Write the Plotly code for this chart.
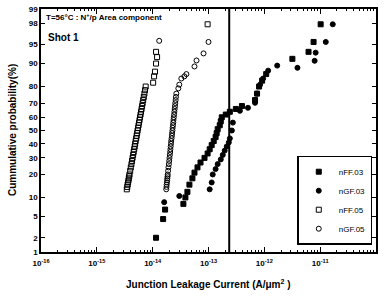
import plotly.graph_objects as go
from statistics import NormalDist

nd = NormalDist()
def z(p):
    return nd.inv_cdf(p / 100.0)

# nFF.05 (open squares)
nff05_i = [3.44e-15, 3.51e-15, 3.56e-15, 3.63e-15, 3.69e-15, 3.74e-15, 3.80e-15, 3.85e-15,
           3.96e-15, 4.06e-15, 4.17e-15, 4.27e-15, 4.37e-15, 4.47e-15, 4.57e-15, 4.67e-15,
           4.77e-15, 4.86e-15, 4.96e-15, 5.07e-15, 5.17e-15, 5.27e-15, 5.37e-15, 5.48e-15,
           5.59e-15, 5.70e-15, 5.82e-15, 5.94e-15, 6.07e-15, 6.19e-15, 6.33e-15, 6.47e-15,
           6.61e-15, 6.77e-15, 6.94e-15, 7.11e-15, 7.30e-15, 7.50e-15,
           1.02e-14, 1.06e-14, 1.10e-14, 1.15e-14, 1.20e-14, 1.15e-14, 9.64e-14]
nff05_p = [13, 14, 15, 16, 17, 18, 19, 20, 22, 24, 26, 28, 30, 32, 34, 36, 38, 40, 42, 44,
           46, 48, 50, 52, 54, 56, 58, 60, 62, 64, 66, 68, 70, 72, 74, 76, 78, 80,
           82, 85, 87, 90, 92, 93.4, 97.9]

# nGF.05 (open circles)
ngf05_i = [1.75e-14, 1.77e-14, 1.78e-14, 1.80e-14, 1.82e-14, 1.83e-14, 1.85e-14, 1.86e-14,
           1.89e-14, 1.92e-14, 1.95e-14, 1.98e-14, 2.00e-14, 2.03e-14, 2.06e-14, 2.08e-14,
           2.10e-14, 2.13e-14, 2.15e-14, 2.18e-14, 2.21e-14, 2.23e-14, 2.26e-14, 2.28e-14,
           2.31e-14, 2.34e-14, 2.36e-14, 2.39e-14, 2.42e-14, 2.45e-14, 2.48e-14, 2.51e-14,
           2.54e-14, 2.58e-14, 2.61e-14, 2.65e-14,
           2.88e-14, 3.00e-14, 3.26e-14, 3.70e-14, 4.02e-14, 5.61e-14, 6.10e-14, 8.15e-14,
           1.00e-13, 1.31e-14]
ngf05_p = [13, 14, 15, 16, 17, 18, 19, 20, 22, 24, 26, 28, 30, 32, 34, 36, 38, 40, 42, 44,
           46, 48, 50, 52, 54, 56, 58, 60, 62, 64, 66, 68, 70, 72, 74, 76,
           79, 81, 84, 85, 86, 89, 91, 93, 95.5, 95.7]

# nFF.03 (filled squares)
nff03_i = [1.15e-14, 1.54e-14, 1.67e-14, 3.55e-14, 3.86e-14, 4.19e-14, 4.55e-14, 5.15e-14,
           5.61e-14, 6.35e-14, 7.19e-14, 8.49e-14, 9.64e-14, 1.05e-13, 1.14e-13, 1.24e-13,
           1.34e-13, 1.40e-13, 1.46e-13, 1.59e-13, 1.66e-13, 1.73e-13, 2.04e-13, 2.41e-13,
           3.09e-13, 3.97e-13, 6.82e-13, 7.41e-13, 8.05e-13, 9.12e-13, 1.08e-12, 3.18e-12,
           6.19e-12, 7.62e-12, 1.02e-11]
nff03_p = [2, 4.5, 6.5, 8, 10, 12, 15, 18, 21, 24, 27, 30, 33, 36, 39, 42, 45, 48, 51, 54,
           57, 60, 62, 64, 66, 68, 72, 76, 80, 83, 86, 91.5, 93.4, 95.5, 97.9]

# nGF.03 (filled circles)
ngf03_i = [1.61e-14, 3.00e-14, 1.05e-13, 1.14e-13, 1.19e-13, 1.34e-13, 1.46e-13, 1.66e-13,
           1.80e-13, 1.95e-13, 2.12e-13, 2.31e-13, 2.41e-13, 2.62e-13, 2.73e-13, 3.65e-13,
           5.09e-13, 6.82e-13, 7.41e-13, 8.39e-13, 9.51e-13, 1.17e-12, 1.70e-12, 3.92e-12,
           7.96e-12, 8.30e-12, 1.26e-11, 1.68e-11]
ngf03_p = [8.5, 10.5, 13, 16, 20, 23, 26, 29, 32, 35, 38, 41, 44, 50, 56, 64.7, 66.8, 70.2,
           76, 81, 84, 87.4, 89.3, 88.5, 90.9, 93.2, 95.5, 97.9]

limit_current = 2.35e-13

x_tick_vals = [1e-16, 1e-15, 1e-14, 1e-13, 1e-12, 1e-11, 1e-10]
x_tick_text = ["10<sup>-16</sup>", "10<sup>-15</sup>", "10<sup>-14</sup>", "10<sup>-13</sup>",
               "10<sup>-12</sup>", "10<sup>-11</sup>", "10<sup>-10</sup>"]
y_tick_pct = [1, 2, 5, 10, 20, 30, 40, 50, 60, 70, 80, 90, 95, 98, 99]

fig = go.Figure()

def add(name, xs, ps, symbol):
    fig.add_trace(go.Scatter(
        x=xs, y=[z(p) for p in ps], mode="markers", name=name,
        marker=dict(symbol=symbol, size=5, color="black",
                    line=dict(color="black", width=1))))

add("nFF.03", nff03_i, nff03_p, "square")
add("nGF.03", ngf03_i, ngf03_p, "circle")
add("nFF.05", nff05_i, nff05_p, "square-open")
add("nGF.05", ngf05_i, ngf05_p, "circle-open")

fig.add_trace(go.Scatter(x=[limit_current, limit_current], y=[z(1), z(99)], mode="lines",
                         line=dict(color="black", width=2), showlegend=False,
                         hoverinfo="skip"))

font_family = "Liberation Sans, Arial, sans-serif"

fig.update_layout(
    width=384, height=296,
    margin=dict(l=41, r=8, t=9, b=44),
    paper_bgcolor="white", plot_bgcolor="white",
    font=dict(family=font_family, color="black", size=8),
    showlegend=True,
    legend=dict(x=0.765, y=0.03, xanchor="left", yanchor="bottom",
                bordercolor="black", borderwidth=1.5, bgcolor="white",
                font=dict(size=8, family=font_family), itemwidth=30,
                tracegroupgap=0),
    xaxis=dict(type="log", range=[-16, -10], tickvals=x_tick_vals, ticktext=x_tick_text,
               showline=True, linecolor="black", linewidth=1.5, mirror="ticks",
               ticks="inside", ticklen=5, tickcolor="black", showgrid=False, zeroline=False,
               tickfont=dict(size=8, weight="bold"), automargin=False, ticklabelstandoff=3,
               minor=dict(ticks="inside", ticklen=2, tickcolor="black", showgrid=False,
                          dtick="D1")),
    yaxis=dict(range=[z(1), z(99)], tickvals=[z(p) for p in y_tick_pct],
               ticktext=[str(p) for p in y_tick_pct],
               showline=True, linecolor="black", linewidth=1.5, mirror="ticks",
               ticks="inside", ticklen=4, tickcolor="black", showgrid=False, zeroline=False,
               tickfont=dict(size=8, weight="bold"), automargin=False),
)

fig.add_annotation(xref="paper", yref="paper", x=0.5, y=-0.1, xanchor="center",
                   yanchor="top", text="<b>Junction Leakage Current (A/μm<sup>2</sup> )</b>",
                   showarrow=False, font=dict(size=10))
fig.add_annotation(xref="paper", yref="paper", x=-0.085, y=0.5, xanchor="center",
                   yanchor="middle", textangle=-90, text="<b>Cummulative probability(%)</b>",
                   showarrow=False, font=dict(size=10))
fig.add_annotation(xref="paper", yref="paper", x=0.01, y=0.997, xanchor="left", yanchor="top",
                   text="<b>T=56°C : N<sup>+</sup>/p Area component</b>", showarrow=False,
                   font=dict(size=8))
fig.add_annotation(xref="paper", yref="paper", x=0.015, y=0.915, xanchor="left", yanchor="top",
                   text="<b>Shot 1</b>", showarrow=False, font=dict(size=10))

fig.write_html("out.html", post_script="document.body.style.margin='0';",
               config={"displayModeBar": False})
